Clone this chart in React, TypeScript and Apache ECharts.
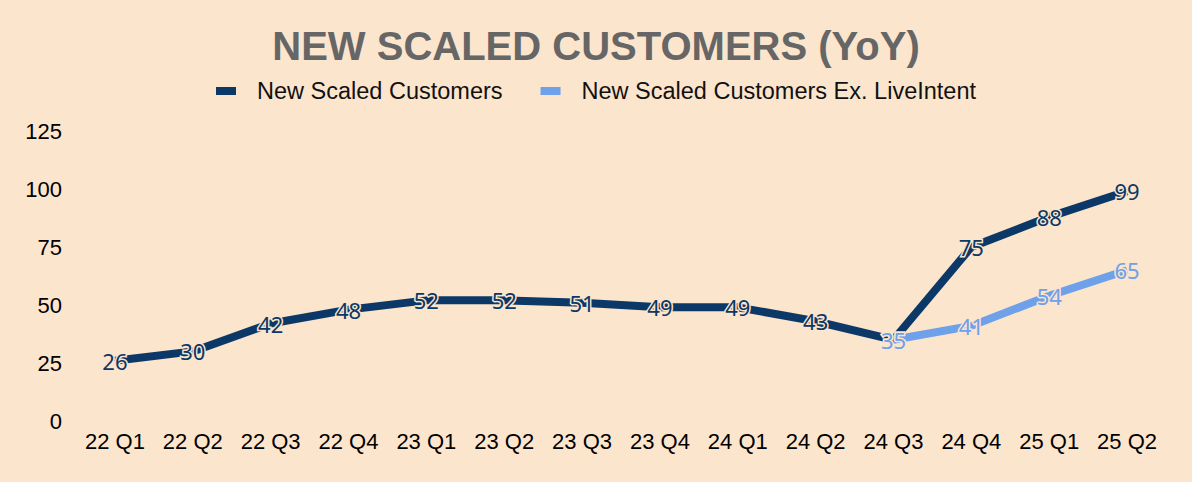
import React, { useEffect, useRef } from "react";
import * as echarts from "echarts";

const categories = ["22 Q1", "22 Q2", "22 Q3", "22 Q4", "23 Q1", "23 Q2", "23 Q3", "23 Q4", "24 Q1", "24 Q2", "24 Q3", "24 Q4", "25 Q1", "25 Q2"];
const newScaled = [26, 30, 42, 48, 52, 52, 51, 49, 49, 43, 35, 75, 88, 99];
const exLiveIntent = [null, null, null, null, null, null, null, null, null, null, 35, 41, 54, 65];

const BG = "#fce5cd";
const DARK = "#0b3866";
const LIGHT = "#6fa0ea";
const FONT = "Liberation Sans, Arial, sans-serif";

export default function App() {
  const ref = useRef<HTMLDivElement>(null);
  useEffect(() => {
    document.body.style.margin = "0";
    document.body.style.background = BG;
    const chart = echarts.init(ref.current!, null, { renderer: "svg" });
    const label = (color: string) => ({
      show: true,
      position: "inside",
      color,
      fontSize: 22,
      fontFamily: "Noto Sans, sans-serif",
      textBorderColor: BG,
      textBorderWidth: 3,
    });
    chart.setOption({
      animation: false,
      backgroundColor: BG,
      title: {
        text: "NEW SCALED CUSTOMERS (YoY)",
        left: "center",
        top: 21,
        textStyle: { color: "#666666", fontSize: 40, fontWeight: "bold", fontFamily: FONT },
      },
      legend: {
        top: 74,
        left: "center",
        itemWidth: 20,
        itemHeight: 8,
        itemGap: 38,
        icon: "rect",
        textStyle: { color: "#111", fontSize: 23.5, fontFamily: FONT, padding: [0, 0, 0, 16] },
        data: ["New Scaled Customers", "New Scaled Customers Ex. LiveIntent"],
      },
      grid: { left: 76, right: 26, top: 131, bottom: 61, containLabel: false },
      xAxis: {
        type: "category",
        data: categories,
        boundaryGap: true,
        axisLine: { show: false },
        axisTick: { show: false },
        axisLabel: { color: "#000", fontSize: 22, fontFamily: FONT, margin: 9, interval: 0 },
      },
      yAxis: {
        type: "value",
        min: 0,
        max: 125,
        interval: 25,
        splitLine: { show: false },
        axisLine: { show: false },
        axisTick: { show: false },
        axisLabel: { color: "#000", fontSize: 22, fontFamily: FONT, margin: 14 },
      },
      series: [
        {
          name: "New Scaled Customers",
          type: "line",
          data: newScaled,
          symbol: "circle",
          symbolSize: 1,
          showSymbol: true,
          lineStyle: { color: DARK, width: 8 },
          itemStyle: { color: DARK },
          label: label(DARK),
          z: 2,
        },
        {
          name: "New Scaled Customers Ex. LiveIntent",
          type: "line",
          data: exLiveIntent,
          symbol: "circle",
          symbolSize: 1,
          showSymbol: true,
          lineStyle: { color: LIGHT, width: 8 },
          itemStyle: { color: LIGHT },
          label: label(LIGHT),
          z: 3,
        },
      ],
    });
    return () => chart.dispose();
  }, []);
  return <div ref={ref} style={{ width: 1192, height: 482 }} />;
}
